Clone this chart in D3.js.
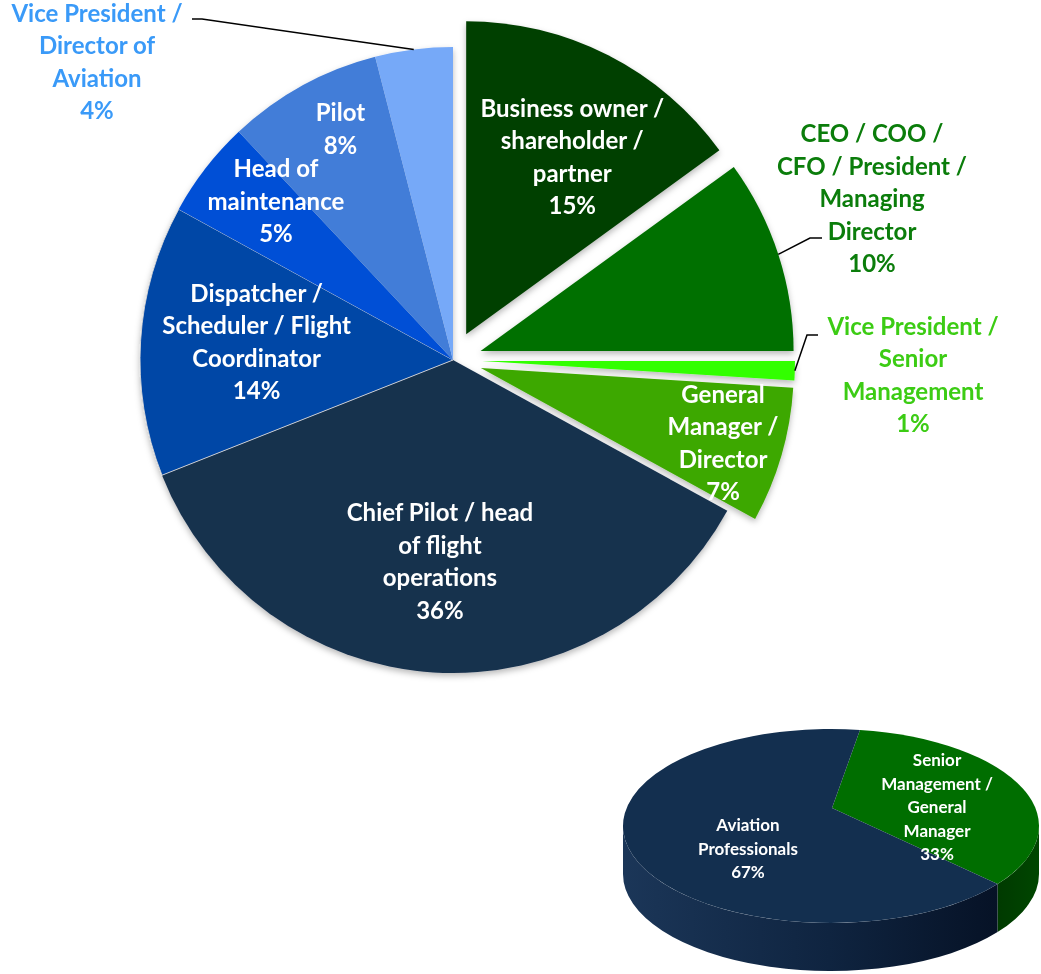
<!DOCTYPE html>
<html>
<head>
<meta charset="utf-8">
<script src="https://cdn.jsdelivr.net/npm/d3@7"></script>
<style>
  html, body { margin: 0; padding: 0; background: #ffffff; }
  svg { display: block; }
  text { font-family: Lato, "Open Sans", sans-serif; font-weight: 700; }
</style>
</head>
<body>
<svg id="chart" width="1041" height="974"></svg>
<script>
// ---------------- DATA ----------------
const mainCategories = [
  "Business owner / shareholder / partner",
  "CEO / COO / CFO / President / Managing Director",
  "Vice President / Senior Management",
  "General Manager / Director",
  "Chief Pilot / head of flight operations",
  "Dispatcher / Scheduler / Flight Coordinator",
  "Head of maintenance",
  "Pilot",
  "Vice President / Director of Aviation"
];
const mainValues = [15, 10, 1, 7, 36, 14, 5, 8, 4];
const mainLabelLines = [
  ["Business owner /", "shareholder /", "partner"],
  ["CEO / COO /", "CFO / President /", "Managing", "Director"],
  ["Vice President /", "Senior", "Management"],
  ["General", "Manager /", "Director"],
  ["Chief Pilot / head", "of flight", "operations"],
  ["Dispatcher /", "Scheduler / Flight", "Coordinator"],
  ["Head of", "maintenance"],
  ["Pilot"],
  ["Vice President /", "Director of", "Aviation"]
];

const summaryCategories = ["Senior Management / General Manager", "Aviation Professionals"];
const summaryValues = [33, 67];
const summaryLabelLines = [
  ["Senior", "Management /", "General", "Manager"],
  ["Aviation", "Professionals"]
];

// ---------------- STYLE / LAYOUT ----------------
const mainColors = ["#003f00", "#006f00", "#33ff00", "#3ea800", "#16304d", "#0046a6", "#004fd6", "#427dd8", "#76a9f8"];
const summaryTopColors = ["#006e00", "#132f4f"];
const svg = d3.select("#chart");

const defs = svg.append("defs");
const sh = defs.append("filter").attr("id", "shadow").attr("x", "-10%").attr("y", "-10%").attr("width", "130%").attr("height", "130%");
sh.append("feDropShadow").attr("dx", 0).attr("dy", 3).attr("stdDeviation", 3).attr("flood-color", "#000").attr("flood-opacity", 0.28);

const cx = 453, cy = 360, R = 313, explode = 29;
const fs = 24, lh = 32.5;
const deg = Math.PI / 180;

// inside-label placement (radius fraction, angle nudge in degrees); null = outside label
const insideLabel = [
  {f: 0.66, a: 3.9}, null, null, {f: 0.81, a: 1.0},
  {f: 0.645, a: 0.1}, {f: 0.63, a: 1.6}, {f: 0.76, a: 4.1}, {f: 0.82, a: 2.8}, null
];
// outside labels: block centre, elbow and end of leader line
const outsideLabel = {
  1: {x: 872, y: 199, elbow: [810, 238], end: [822, 238], color: "#0b7d0b"},
  2: {x: 913, y: 375, elbow: [807, 335], end: [818, 335], color: "#3ccc14"},
  8: {x: 97,  y: 62,  elbow: [202, 19],  end: [192, 19],  color: "#3a9af8"}
};

// ---------------- MAIN PIE ----------------
const pie = d3.pie().sort(null).value(d => d);
const arcs = pie(mainValues);
const arcGen = d3.arc().innerRadius(0).outerRadius(R);

function offsetFor(i, a) {
  if (i > 3) return [0, 0];
  const mid = (a.startAngle + a.endAngle) / 2;
  return [explode * Math.sin(mid), -explode * Math.cos(mid)];
}

const gMain = svg.append("g").attr("filter", "url(#shadow)");
gMain.selectAll("path.slice")
  .data(arcs)
  .enter().append("path")
  .attr("class", "slice")
  .attr("transform", (d, i) => {
    const o = offsetFor(i, d);
    return `translate(${cx + o[0]},${cy + o[1]})`;
  })
  .attr("d", arcGen)
  .attr("fill", (d, i) => mainColors[i])
  .attr("stroke", (d, i) => i === 5 ? "rgba(215,215,215,0.9)" : "none")
  .attr("stroke-width", 1);

function drawBlock(g, x, y, lines, color, size, lineH) {
  const n = lines.length;
  const t = g.append("text")
    .attr("text-anchor", "middle")
    .attr("fill", color)
    .style("font-size", size + "px");
  lines.forEach((ln, k) => {
    t.append("tspan")
      .attr("x", x)
      .attr("y", y + (k - (n - 1) / 2) * lineH + 0.35 * size)
      .text(ln);
  });
}

const gLabels = svg.append("g");
arcs.forEach((a, i) => {
  const lines = mainLabelLines[i].concat([d3.format(".0f")(mainValues[i]) + "%"]);
  const o = offsetFor(i, a);
  const mid = (a.startAngle + a.endAngle) / 2;
  if (insideLabel[i]) {
    const L = insideLabel[i];
    const ang = mid + L.a * deg;
    const x = cx + o[0] + L.f * R * Math.sin(ang);
    const y = cy + o[1] - L.f * R * Math.cos(ang);
    drawBlock(gLabels, x, y, lines, "#ffffff", fs, lh);
  } else {
    const L = outsideLabel[i];
    const px = cx + o[0] + R * Math.sin(mid);
    const py = cy + o[1] - R * Math.cos(mid);
    gLabels.append("path")
      .attr("d", d3.line()([[px, py], L.elbow, L.end]))
      .attr("fill", "none")
      .attr("stroke", "#000")
      .attr("stroke-width", 1.5);
    drawBlock(gLabels, L.x, L.y, lines, L.color, fs, lh);
  }
});

// ---------------- 3D SUMMARY PIE ----------------
const e = {cx: 831, cy: 826, rx: 208, ry: 97, depth: 48, apex: [832, 808], rot: 8 * deg};
const pie3 = d3.pie().sort(null).value(d => d).startAngle(e.rot).endAngle(e.rot + 2 * Math.PI);
const arcs3 = pie3(summaryValues);
const pt = (t, dy = 0) => [e.cx + e.rx * Math.sin(t), e.cy - e.ry * Math.cos(t) + dy];

const grad = defs.append("linearGradient").attr("id", "blueSide").attr("x1", "0").attr("x2", "1").attr("y1", "0").attr("y2", "0");
grad.append("stop").attr("offset", "0%").attr("stop-color", "#1b3658");
grad.append("stop").attr("offset", "55%").attr("stop-color", "#0f2440");
grad.append("stop").attr("offset", "100%").attr("stop-color", "#061226");
const gradG = defs.append("linearGradient").attr("id", "greenSide").attr("x1", "0").attr("x2", "1").attr("y1", "0").attr("y2", "0");
gradG.append("stop").attr("offset", "0%").attr("stop-color", "#003a00");
gradG.append("stop").attr("offset", "100%").attr("stop-color", "#004600");
const sideFills = ["url(#greenSide)", "url(#blueSide)"];

const g3 = svg.append("g");
// sides (front half: angles 90..270 deg)
arcs3.forEach((a, i) => {
  const lo = Math.max(a.startAngle, Math.PI / 2);
  const hi = Math.min(a.endAngle, 3 * Math.PI / 2);
  if (hi <= lo) return;
  const p0 = pt(lo), p1 = pt(hi), q1 = pt(hi, e.depth), q0 = pt(lo, e.depth);
  const d = `M${p0}A${e.rx},${e.ry} 0 0 1 ${p1}L${q1}A${e.rx},${e.ry} 0 0 0 ${q0}Z`;
  g3.append("path").attr("d", d).attr("fill", sideFills[i]);
});
// top faces
arcs3.forEach((a, i) => {
  const p0 = pt(a.startAngle), p1 = pt(a.endAngle);
  const large = (a.endAngle - a.startAngle) > Math.PI ? 1 : 0;
  const d = `M${e.apex}L${p0}A${e.rx},${e.ry} 0 ${large} 1 ${p1}Z`;
  g3.append("path").attr("d", d).attr("fill", summaryTopColors[i]);
});
const label3 = [{fx: 0.505, fy: -0.005}, {fx: -0.404, fy: 0.423}];
arcs3.forEach((a, i) => {
  const lines = summaryLabelLines[i].concat([summaryValues[i] + "%"]);
  const x = e.apex[0] + label3[i].fx * e.rx;
  const y = e.apex[1] + label3[i].fy * e.ry;
  drawBlock(g3, x, y, lines, "#ffffff", 17, 23.5);
});
</script>
</body>
</html>
